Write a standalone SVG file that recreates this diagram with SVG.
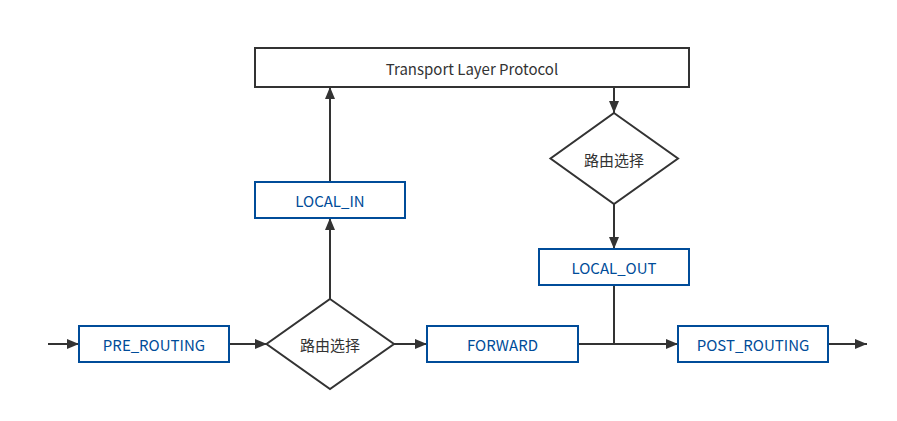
<svg xmlns="http://www.w3.org/2000/svg" width="897" height="421" viewBox="0 0 897 421">
<defs>
<marker id="ah" markerWidth="12" markerHeight="10" refX="12" refY="5" orient="auto" markerUnits="userSpaceOnUse">
<path d="M0,0 L12,5 L0,10 Z" fill="#333333"/>
</marker>
<style>
.box{fill:#ffffff;stroke:#004c99;stroke-width:2}
.tbox{fill:#ffffff;stroke:#333333;stroke-width:2}
.dia{fill:#ffffff;stroke:#333333;stroke-width:2}
.lbl{font-family:"Noto Sans CJK SC","Noto Sans",sans-serif;font-size:15px;fill:#004c99;text-anchor:middle;dominant-baseline:central}
.dl{font-family:"Noto Sans CJK SC","Noto Sans",sans-serif;font-size:15px;fill:#333333;text-anchor:middle;dominant-baseline:central}
.c{fill:none;stroke:#333333;stroke-width:2}
</style>
</defs>
<rect width="897" height="421" fill="#ffffff"/>
<g id="connectors">
<line class="c" x1="48" y1="344" x2="79" y2="344" marker-end="url(#ah)"/>
<line class="c" x1="229" y1="344" x2="267" y2="344" marker-end="url(#ah)"/>
<line class="c" x1="394" y1="344" x2="427" y2="344" marker-end="url(#ah)"/>
<line class="c" x1="330" y1="299" x2="330" y2="218" marker-end="url(#ah)"/>
<line class="c" x1="330" y1="182" x2="330" y2="87" marker-end="url(#ah)"/>
<line class="c" x1="614" y1="87" x2="614" y2="113" marker-end="url(#ah)"/>
<line class="c" x1="614" y1="204" x2="614" y2="249" marker-end="url(#ah)"/>
<polyline class="c" points="614,285 614,344"/>
<line class="c" x1="578" y1="344" x2="678" y2="344" marker-end="url(#ah)"/>
<line class="c" x1="828" y1="344" x2="867" y2="344" marker-end="url(#ah)"/>
</g>
<g id="transport">
<rect class="tbox" x="255" y="48" width="434" height="39"/>
<text class="dl" x="472" y="68">Transport Layer Protocol</text>
</g>
<g id="local_in">
<rect class="box" x="255" y="182" width="150" height="36"/>
<text class="lbl" x="330" y="200.5">LOCAL_IN</text>
</g>
<g id="route_out">
<polygon class="dia" points="614,113 678,158.5 614,204 550.5,158.5"/>
<text class="dl" x="614" y="159">路由选择</text>
</g>
<g id="local_out">
<rect class="box" x="539" y="249" width="150" height="36"/>
<text class="lbl" x="614" y="267.5">LOCAL_OUT</text>
</g>
<g id="pre_routing">
<rect class="box" x="79" y="326" width="150" height="36"/>
<text class="lbl" x="154" y="344.5">PRE_ROUTING</text>
</g>
<g id="route_in">
<polygon class="dia" points="330,299 394,344 330,389 266.5,344"/>
<text class="dl" x="330" y="344.5">路由选择</text>
</g>
<g id="forward">
<rect class="box" x="427" y="326" width="151" height="36"/>
<text class="lbl" x="502.5" y="344.5">FORWARD</text>
</g>
<g id="post_routing">
<rect class="box" x="678" y="326" width="150" height="36"/>
<text class="lbl" x="753" y="344.5">POST_ROUTING</text>
</g>
</svg>
